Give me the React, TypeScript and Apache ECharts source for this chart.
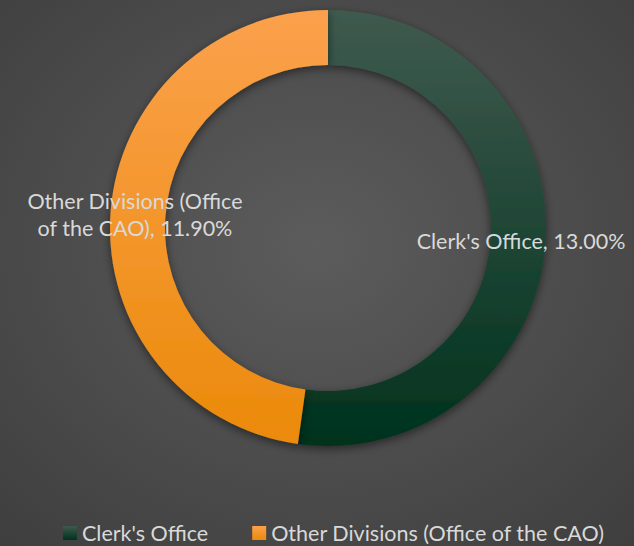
import React, { useEffect, useRef } from "react";
import * as echarts from "echarts";

const categories = ["Clerk's Office", "Other Divisions (Office of the CAO)"];
const values = [13.0, 11.9];
const labelTexts = ["Clerk's Office, 13.00%", "Other Divisions (Office\nof the CAO), 11.90%"];

export default function App() {
  const ref = useRef<HTMLDivElement>(null);
  useEffect(() => {
    document.body.style.margin = "0";
    const chart = echarts.init(ref.current!, null, { renderer: "svg" });
    const grad = (top: string, bottom: string) =>
      new echarts.graphic.LinearGradient(0, 0, 0, 1, [
        { offset: 0, color: top },
        { offset: 1, color: bottom },
      ]);
    const colors = [grad("#3f5a4e", "#00321e"), grad("#fba14c", "#eb8a0a")];
    chart.setOption({
      animation: false,
      backgroundColor: {
        type: "radial",
        x: 0.5,
        y: 0.45,
        r: 0.75,
        colorStops: [
          { offset: 0, color: "#5c5c5c" },
          { offset: 1, color: "#3e3e3e" },
        ],
      },
      legend: {
        bottom: -3,
        left: 58,
        itemWidth: 14,
        itemHeight: 14,
        itemGap: 44,
        icon: "rect",
        textStyle: { color: "#d9d9d9", fontSize: 21.5, fontFamily: "Lato" },
        data: categories,
      },
      series: [
        {
          type: "pie",
          center: [328, 228],
          radius: [163, 218],
          startAngle: 90,
          clockwise: true,
          itemStyle: {
            shadowBlur: 10,
            shadowColor: "rgba(0,0,0,0.5)",
            shadowOffsetY: 3,
          },
          label: {
            show: true,
            position: "inside",
            color: "#d9d9d9",
            fontSize: 21.5,
            fontFamily: "Lato",
            lineHeight: 27,
            align: "center",
            formatter: (p: any) => labelTexts[p.dataIndex],
          },
          labelLine: { show: false },
          data: categories.map((c, i) => ({
            name: c,
            value: values[i],
            itemStyle: { color: colors[i] },
          })),
        },
      ],
    });
    return () => chart.dispose();
  }, []);
  return <div ref={ref} style={{ width: 634, height: 546 }} />;
}
